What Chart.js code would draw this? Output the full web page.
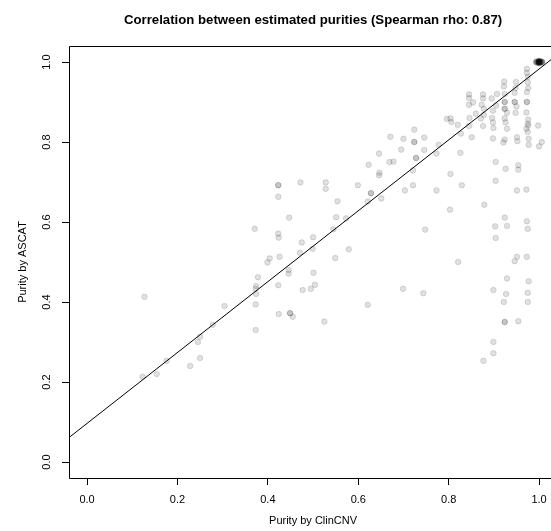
<!DOCTYPE html>
<html>
<head>
<meta charset="utf-8">
<script src="https://cdn.jsdelivr.net/npm/chart.js@4.4.1/dist/chart.umd.min.js"></script>
<style>
  html, body { margin: 0; padding: 0; background: #fff; overflow: hidden; }
  #wrap { width: 551px; height: 531px; }
</style>
</head>
<body>
<div id="wrap"><canvas id="purity-chart" width="551" height="531"></canvas></div>
<script>
// Purity scatter: ClinCNV vs ASCAT, one entry per sample

const chartTitle = 'Correlation between estimated purities (Spearman rho: 0.87)';
const xAxisTitle = 'Purity by ClinCNV';
const yAxisTitle = 'Purity by ASCAT';

const xTicks = [0, 0.2, 0.4, 0.6, 0.8, 1.0];
const yTicks = [0, 0.2, 0.4, 0.6, 0.8, 1.0];
const xTickLabels = ['0.0', '0.2', '0.4', '0.6', '0.8', '1.0'];
const yTickLabels = ['0.0', '0.2', '0.4', '0.6', '0.8', '1.0'];

const clincnvPurity = [
  0.123, 0.127, 0.154, 0.176, 0.228, 0.250, 0.245, 0.250, 0.278, 0.304,
  0.373, 0.373, 0.374, 0.373, 0.374, 0.378, 0.371, 0.399, 0.404, 0.423,
  0.423, 0.423, 0.447, 0.423, 0.424, 0.426, 0.446, 0.446, 0.423, 0.424,
  0.449, 0.449, 0.455, 0.471, 0.475, 0.472, 0.477, 0.495, 0.499, 0.500,
  0.501, 0.504, 0.525, 0.528, 0.528, 0.545, 0.549, 0.551, 0.554, 0.573,
  0.579, 0.599, 0.621, 0.621, 0.623, 0.628, 0.628, 0.646, 0.646, 0.647,
  0.651, 0.669, 0.671, 0.678, 0.695, 0.699, 0.700, 0.703,
  0.721, 0.721, 0.724, 0.724, 0.724, 0.728, 0.728, 0.744, 0.746, 0.746,
  0.748, 0.773, 0.773, 0.778, 0.796, 0.803, 0.804, 0.804, 0.806, 0.820,
  0.821, 0.826, 0.827, 0.829, 0.845, 0.845, 0.845, 0.845, 0.846, 0.851,
  0.854, 0.860, 0.871, 0.873, 0.876, 0.876, 0.876, 0.877, 0.878, 0.878,
  0.879, 0.895, 0.896, 0.898, 0.898, 0.898, 0.899, 0.899, 0.899, 0.899,
  0.903, 0.904, 0.904, 0.904, 0.905, 0.907, 0.921, 0.922, 0.922, 0.923,
  0.924, 0.924, 0.924, 0.924, 0.924, 0.924, 0.924, 0.924, 0.924, 0.924,
  0.926, 0.926, 0.927, 0.929, 0.929, 0.929, 0.929, 0.946, 0.946, 0.946,
  0.946, 0.948, 0.948, 0.949, 0.950, 0.951, 0.951, 0.951, 0.952, 0.954,
  0.954, 0.954, 0.972, 0.972, 0.972, 0.973, 0.973, 0.973, 0.973, 0.973,
  0.973, 0.973, 0.975, 0.975, 0.975, 0.975, 0.975, 0.975, 0.975, 0.976,
  0.976, 0.976, 0.977, 0.977, 0.977, 0.998, 1.000, 1.006,
  0.993, 0.994, 0.995, 0.996, 0.997, 0.998, 0.999, 1.000, 1.000, 1.000,
  1.000, 1.000, 1.000, 1.000, 1.000, 1.000, 1.000, 1.001, 1.002, 1.002,
  1.003, 1.004, 1.005, 1.006, 1.007, 1.007
];
const ascatPurity = [
  0.213, 0.413, 0.220, 0.253, 0.240, 0.260, 0.300, 0.313, 0.343, 0.390,
  0.330, 0.394, 0.420, 0.433, 0.440, 0.462, 0.583, 0.499, 0.509, 0.692,
  0.692, 0.663, 0.611, 0.571, 0.561, 0.513, 0.480, 0.471, 0.442, 0.370,
  0.372, 0.372, 0.363, 0.523, 0.549, 0.699, 0.430, 0.433, 0.533, 0.562,
  0.473, 0.443, 0.351, 0.699, 0.683, 0.582, 0.510, 0.612, 0.652, 0.609,
  0.532, 0.692, 0.651, 0.393, 0.743, 0.672, 0.672, 0.771, 0.717, 0.723,
  0.659, 0.750, 0.813, 0.751, 0.781, 0.433, 0.808, 0.679,
  0.692, 0.729, 0.831, 0.800, 0.800, 0.760, 0.760, 0.422, 0.811, 0.780,
  0.581, 0.771, 0.679, 0.793, 0.858, 0.631, 0.859, 0.720, 0.850, 0.843,
  0.500, 0.773, 0.821, 0.692, 0.919, 0.910, 0.893, 0.840, 0.860, 0.812,
  0.899, 0.871, 0.859, 0.893, 0.919, 0.909, 0.840, 0.253, 0.883, 0.868,
  0.643, 0.909, 0.860, 0.878, 0.849, 0.809, 0.835, 0.430, 0.300, 0.272,
  0.589, 0.750, 0.703, 0.560, 0.891, 0.920, 0.799, 0.939, 0.400, 0.951,
  0.920, 0.900, 0.900, 0.883, 0.883, 0.859, 0.806, 0.611, 0.350, 0.350,
  0.849, 0.733, 0.420, 0.873, 0.833, 0.590, 0.459, 0.923, 0.900, 0.900,
  0.502, 0.935, 0.873, 0.950, 0.889, 0.812, 0.679, 0.513, 0.802, 0.742,
  0.731, 0.352, 0.874, 0.833, 0.681, 0.983, 0.973, 0.925, 0.900, 0.900,
  0.602, 0.513, 0.963, 0.949, 0.846, 0.825, 0.583, 0.423, 0.400, 0.935,
  0.856, 0.841, 0.808, 0.793, 0.452, 0.841, 0.789, 0.800,
  1.000, 0.999, 1.002, 1.000, 0.998, 1.001, 0.999, 1.000, 1.003, 0.997,
  1.000, 1.001, 0.999, 1.000, 1.002, 0.998, 1.000, 1.000, 0.999, 1.002,
  1.000, 1.001, 0.999, 1.000, 1.001, 0.999
];

// regression line endpoints (clipped to the plot box)
const fitLineX = [-0.1, 1.1];
const fitLineY = [0.008, 1.071];

const FONT = '"Liberation Sans", Arial, Helvetica, sans-serif';

function qs(id) { return document.getElementById(id); }

// ----- R-style box, tick labels and titles -----
const rDecorations = {
  id: 'rDecorations',
  afterDraw(chart) {
    const { ctx, chartArea, scales } = chart;
    const xs = scales.x, ys = scales.y;
    ctx.save();
    ctx.strokeStyle = '#000';
    ctx.lineWidth = 1;
    ctx.beginPath();
    ctx.moveTo(chartArea.left + 0.5, chartArea.bottom + 0.5);
    ctx.lineTo(chartArea.left + 0.5, chartArea.top + 0.5);
    ctx.lineTo(chart.width, chartArea.top + 0.5);
    ctx.moveTo(chartArea.left + 0.5, chartArea.bottom + 0.5);
    ctx.lineTo(chart.width, chartArea.bottom + 0.5);
    ctx.stroke();

    const midX = xs.getPixelForValue(0.5);
    ctx.fillStyle = '#000';
    ctx.textAlign = 'center';
    ctx.textBaseline = 'middle';

    ctx.font = 'bold 13.2px ' + FONT;
    ctx.fillText(chartTitle, midX, 20);

    ctx.font = '11px ' + FONT;
    xTicks.forEach((v, i) => {
      ctx.fillText(xTickLabels[i], xs.getPixelForValue(v), 500);
    });
    ctx.fillText(xAxisTitle, midX, 521);

    yTicks.forEach((v, i) => {
      ctx.save();
      ctx.translate(47, ys.getPixelForValue(v));
      ctx.rotate(-Math.PI / 2);
      ctx.fillText(yTickLabels[i], 0, 0);
      ctx.restore();
    });
    ctx.save();
    ctx.translate(23, (chartArea.top + chartArea.bottom) / 2);
    ctx.rotate(-Math.PI / 2);
    ctx.fillText(yAxisTitle, 0, 0);
    ctx.restore();
    ctx.restore();
  }
};

function tickAxis(min, max, ticks, fit) {
  return {
    type: 'linear',
    min, max,
    afterBuildTicks: (s) => { s.ticks = ticks.map(v => ({ value: v })); },
    afterFit: fit,
    ticks: { display: false },
    grid: {
      drawOnChartArea: false,
      drawTicks: true,
      tickLength: 7,
      tickColor: '#000',
      tickWidth: 1,
    },
    border: { display: false },
  };
}

function drawChart() {
  const points = clincnvPurity.map((x, i) => ({ x, y: ascatPurity[i] }));
  const fitPoints = fitLineX.map((x, i) => ({ x, y: fitLineY[i] }));

  new Chart(qs('purity-chart').getContext('2d'), {
    type: 'scatter',
    data: {
      datasets: [
        {
          type: 'line',
          data: fitPoints,
          borderColor: '#000',
          borderWidth: 1,
          pointRadius: 0,
          fill: false,
          order: 0,
        },
        {
          data: points,
          backgroundColor: 'rgba(0, 0, 0, 0.12)',
          borderColor: 'rgba(0, 0, 0, 0.12)',
          borderWidth: 1,
          pointRadius: 2.8,
          order: 1,
        },
      ],
    },
    options: {
      responsive: false,
      animation: false,
      devicePixelRatio: 1,
      events: [],
      layout: { autoPadding: false, padding: { top: 46, left: 0, right: 0, bottom: 0 } },
      scales: {
        x: tickAxis(-0.04, 1.0264, xTicks, (s) => { s.height = 53; }),
        y: tickAxis(-0.04, 1.04, yTicks, (s) => { s.width = 69; }),
      },
      plugins: {
        legend: { display: false },
        title: { display: false },
        tooltip: { enabled: false },
      },
    },
    plugins: [rDecorations],
  });
}

window.addEventListener('DOMContentLoaded', drawChart);
</script>
</body>
</html>
